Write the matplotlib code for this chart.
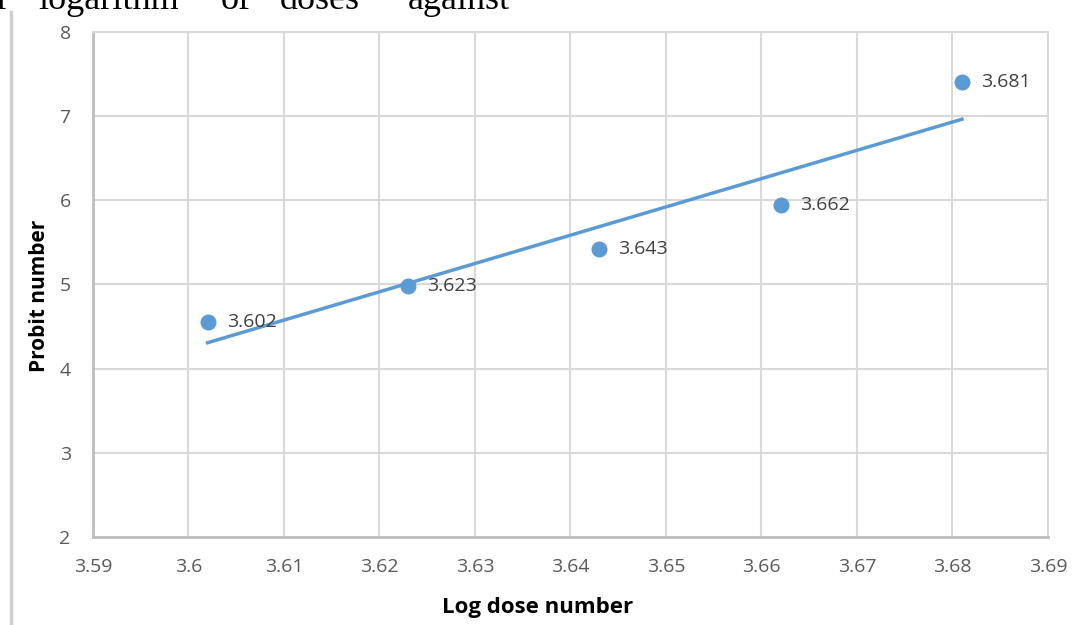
import matplotlib
matplotlib.use('Agg')
import matplotlib.pyplot as plt
import numpy as np
from matplotlib.lines import Line2D

# values
log_dose = [3.602, 3.623, 3.643, 3.662, 3.681]
probit = [4.55, 4.98, 5.42, 5.94, 7.40]
point_labels = ['3.602', '3.623', '3.643', '3.662', '3.681']
x_ticks = [3.59, 3.60, 3.61, 3.62, 3.63, 3.64, 3.65, 3.66, 3.67, 3.68, 3.69]
x_tick_labels = ['3.59', '3.6', '3.61', '3.62', '3.63', '3.64', '3.65', '3.66', '3.67', '3.68', '3.69']
y_ticks = [2, 3, 4, 5, 6, 7, 8]

# words of the body text line cut off at the top of the page
header_words = ['r', 'logarithm', 'of', 'doses', 'against']
header_x = [-4, 38, 221, 280, 408]

blue = '#5b9bd5'
tick_grey = '#595959'

fig = plt.figure(figsize=(10.77, 6.25), dpi=100)
ax = fig.add_axes([0.0863, 0.141, 0.8867, 0.808])

# linear trend line (Excel-style) over the data range
slope, icpt = np.polyfit(log_dose, probit, 1)
xs = np.array([log_dose[0], log_dose[-1]])
ax.plot(xs, slope * xs + icpt, color=blue, lw=2.5, zorder=3)

ax.plot(log_dose, probit, 'o', color=blue, markersize=10.5, zorder=4)
for x, y, lab in zip(log_dose, probit, point_labels):
    ax.annotate(lab, (x, y), xytext=(14, 0), textcoords='offset points',
                va='center', ha='left', fontsize=14, color='#404040', family='Open Sans')

ax.set_xlim(3.59, 3.69)
ax.set_ylim(2, 8)
ax.set_xticks(x_ticks)
ax.set_xticklabels(x_tick_labels)
ax.set_yticks(y_ticks)
ax.grid(True, color='#d9d9d9', lw=1.5)
ax.set_axisbelow(True)
for s in ['top', 'right']:
    ax.spines[s].set_color('#d9d9d9')
    ax.spines[s].set_linewidth(1.5)
for s in ['left', 'bottom']:
    ax.spines[s].set_color('#bfbfbf')
    ax.spines[s].set_linewidth(2)
ax.tick_params(length=0, labelsize=14, labelcolor=tick_grey)
ax.tick_params(axis='x', pad=15)
ax.tick_params(axis='y', pad=16)
for t in ax.get_xticklabels() + ax.get_yticklabels():
    t.set_family('Open Sans')

ax.set_xlabel('Log dose number', fontsize=16, fontweight='bold', family='Open Sans')
ax.set_ylabel('Probit number', fontsize=15, fontweight='bold', family='Open Sans')
ax.xaxis.set_label_coords(0.466, -0.12)
ax.yaxis.set_label_coords(-0.045, 0.478)

for w, px in zip(header_words, header_x):
    fig.text(px / 1077, 1 - 9 / 625, w, family='Liberation Serif',
             fontsize=26, va='baseline', ha='left', color='black')
fig.add_artist(Line2D([11 / 1077, 11 / 1077], [0, 1 - 12 / 625], transform=fig.transFigure,
                      color='#d0d0d0', lw=2.5))

fig.savefig('out.png', dpi=100)
